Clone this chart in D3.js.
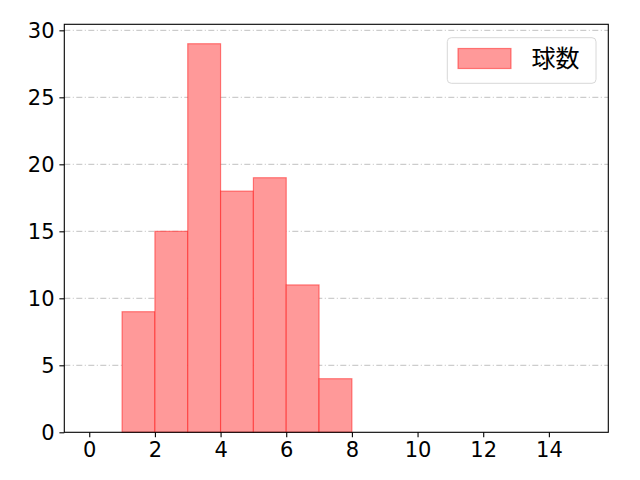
<!DOCTYPE html>
<html><head><meta charset="utf-8">
<script src="https://cdn.jsdelivr.net/npm/d3@7"></script>
<style>body{margin:0;background:#fff}svg{display:block}text{font-family:"DejaVu Sans",sans-serif}</style>
</head><body>
<script>
const binStarts = [1, 2, 3, 4, 5, 6, 7];
const binEnds   = [2, 3, 4, 5, 6, 7, 8];
const counts    = [9, 15, 29, 18, 19, 11, 4];
const xTicks = [0, 2, 4, 6, 8, 10, 12, 14];
const yTicks = [0, 5, 10, 15, 20, 25, 30];
const seriesName = "球数";

const W = 640, H = 480;
const m = {left: 64.3, top: 24.3, right: 608.3, bottom: 432.3};
const svg = d3.select("body").append("svg").attr("width", W).attr("height", H);
const x = d3.scaleLinear().domain([-0.76, 15.81]).range([m.left, m.right]);
const y = d3.scaleLinear().domain([0, 29 * 1.05]).range([m.bottom, m.top]);

// grid
svg.append("g").selectAll("line").data(yTicks.filter(d => d > 0)).join("line")
  .attr("x1", m.left).attr("x2", m.right)
  .attr("y1", d => y(d)).attr("y2", d => y(d))
  .attr("stroke", "#b0b0b0").attr("stroke-width", 0.8)
  .attr("stroke-dasharray", "6,2.5,1,2.5");

// bars
svg.append("g").selectAll("rect").data(counts).join("rect")
  .attr("x", (d, i) => x(binStarts[i]))
  .attr("width", (d, i) => x(binEnds[i]) - x(binStarts[i]))
  .attr("y", d => y(d))
  .attr("height", d => y(0) - y(d))
  .attr("fill", "#ff9999")
  .attr("stroke", "rgba(255,0,0,0.45)").attr("stroke-width", 1.2);

// axes
const fs = "21px";
const xAxis = svg.append("g").attr("transform", `translate(0,${m.bottom})`)
  .call(d3.axisBottom(x).tickValues(xTicks).tickSize(4.9).tickPadding(4.9).tickFormat(d3.format("d")));
const yAxis = svg.append("g").attr("transform", `translate(${m.left},0)`)
  .call(d3.axisLeft(y).tickValues(yTicks).tickSize(4.9).tickPadding(4.9).tickFormat(d3.format("d")));
[xAxis, yAxis].forEach(a => {
  a.select(".domain").remove();
  a.selectAll("line").attr("stroke", "#000").attr("stroke-width", 1.1);
  a.selectAll("text").attr("font-size", fs).attr("fill", "#000")
    .style("font-family", '"DejaVu Sans",sans-serif');
});

// frame
svg.append("rect").attr("x", m.left).attr("y", m.top)
  .attr("width", m.right - m.left).attr("height", m.bottom - m.top)
  .attr("fill", "none").attr("stroke", "#000").attr("stroke-width", 1.1);

// legend
const lg = svg.append("g");
lg.append("rect").attr("x", 447.3).attr("y", 37.7).attr("width", 148.7).attr("height", 45.6)
  .attr("rx", 4).attr("fill", "rgba(255,255,255,0.8)").attr("stroke", "#d8d8d8").attr("stroke-width", 1);
lg.append("rect").attr("x", 458).attr("y", 48.5).attr("width", 53).attr("height", 20)
  .attr("fill", "#ff9999").attr("stroke", "rgba(255,0,0,0.45)").attr("stroke-width", 1.2);
lg.append("text").attr("x", 531.5).attr("y", 67).attr("font-size", "24px").attr("fill", "#000")
  .style("font-family", '"Noto Sans CJK JP",sans-serif').text(seriesName);
</script>
</body></html>
